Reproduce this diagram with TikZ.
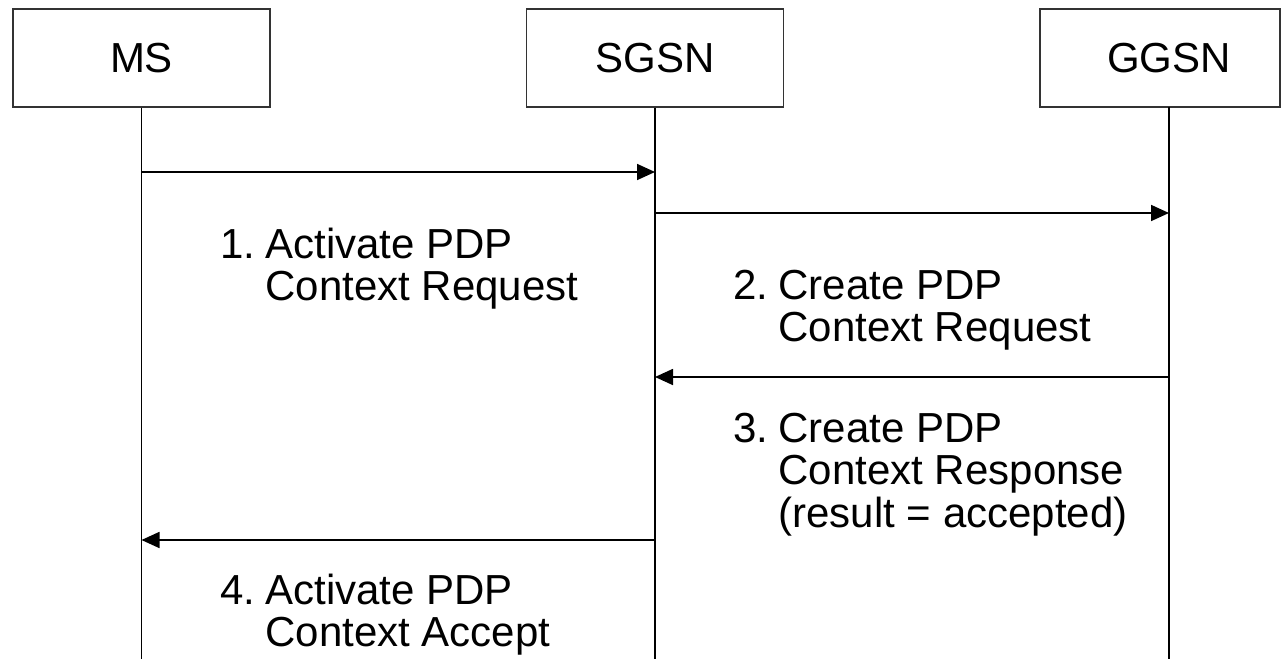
\documentclass[tikz,border=0pt]{standalone}
\usepackage{fontspec}
\setmainfont{Liberation Sans}
\usetikzlibrary{arrows.meta}
\tikzset{
  box/.style={draw=black!80, line width=0.9pt, minimum width=192.75pt, minimum height=73.5pt, inner sep=0pt, fill=white},
  life/.style={line width=1.3pt},
  msg/.style={line width=1.3pt, -{Triangle[length=13.5pt,width=12pt]}},
  lbl/.style={anchor=base west, inner sep=0pt}
}
\newcommand{\lines}[1]{\begin{tabular}[t]{@{}l@{}}#1\end{tabular}}
\newcommand{\num}[1]{\makebox[34pt][l]{#1}}
\newcommand{\ind}{\hspace*{34pt}}
\begin{document}
\begin{tikzpicture}[x=0.75pt, y=-0.75pt, font=\fontsize{31.5pt}{31.5pt}\selectfont]
\useasboundingbox (0,0) rectangle (1281,659);
% lifeline boxes
\node[box] (ms) at (141.5,58) {MS};
\node[box] (sgsn) at (655,58) {SGSN};
\node[box, minimum width=180pt] (ggsn) at (1160,58) {\hspace*{13.5pt}GGSN};
% lifeline ends
\coordinate (msb) at (141.5,659);
\coordinate (sgsnb) at (655,659);
\coordinate (ggsnb) at (1169,659);
\coordinate (ggsntop) at (1169,107);
\draw[life] (ms.south) -- (msb);
\draw[life] (sgsn.south) -- (sgsnb);
\draw[life] (ggsntop) -- (ggsnb);
% message points
\coordinate (m1) at (141.5,172);
\coordinate (s1) at (655,172);
\coordinate (s2) at (655,213);
\coordinate (g2) at (1169,213);
\coordinate (g3) at (1169,377);
\coordinate (s3) at (655,377);
\coordinate (s4) at (655,540);
\coordinate (m4) at (141.5,540);
\draw[msg] (m1) -- (s1);
\draw[msg] (s2) -- (g2);
\draw[msg] (g3) -- (s3);
\draw[msg] (s4) -- (m4);
% labels
\node[lbl] (l1) at (220,259) {\lines{\num{1.}Activate PDP\\\ind Context Request}};
\node[lbl] (l2) at (733,300) {\lines{\num{2.}Create PDP\\\ind Context Request}};
\node[lbl] (l3) at (733,442) {\lines{\num{3.}Create PDP\\\ind Context Response\\\ind (result = accepted)}};
\node[lbl] (l4) at (220,604) {\lines{\num{4.}Activate PDP\\\ind Context Accept}};
\end{tikzpicture}
\end{document}
